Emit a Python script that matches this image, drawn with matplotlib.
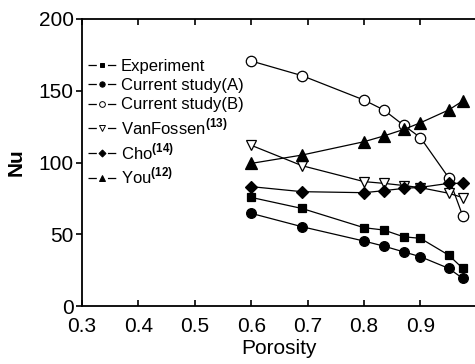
import matplotlib
matplotlib.use("Agg")
import matplotlib.pyplot as plt
from matplotlib.lines import Line2D

plt.rcParams['font.family'] = ['Liberation Sans', 'DejaVu Sans']
plt.rcParams['mathtext.fontset'] = 'custom'
plt.rcParams['mathtext.rm'] = 'Liberation Sans'
plt.rcParams['mathtext.bf'] = 'Liberation Sans:bold'
plt.rcParams['lines.scale_dashes'] = False

porosity = [0.60, 0.69, 0.80, 0.835, 0.87, 0.90, 0.95, 0.975]

experiment = [75.7, 68.0, 54.6, 53.0, 48.3, 47.2, 35.5, 26.3]
current_a = [64.6, 55.3, 45.3, 41.8, 37.8, 34.4, 26.3, 19.3]
current_b = [170.7, 160.5, 143.5, 136.6, 126.0, 117.3, 89.4, 62.7]
vanfossen = [112.0, 97.8, 86.7, 85.5, 84.0, 82.5, 78.6, 75.6]
cho = [83.2, 79.7, 79.0, 80.4, 82.0, 82.7, 85.5, 85.5]
you = [99.4, 105.2, 114.5, 118.5, 123.0, 127.7, 136.6, 142.9]

labels = ["Experiment", "Current study(A)", "Current study(B)",
          r"VanFossen$^{\mathbf{(13)}}$", r"Cho$^{\mathbf{(14)}}$", r"You$^{\mathbf{(12)}}$"]

series = [
    (experiment, dict(marker='s', mfc='black', ms=6)),
    (current_a, dict(marker='o', mfc='black', ms=7)),
    (current_b, dict(marker='o', mfc='white', ms=7.5)),
    (vanfossen, dict(marker='v', mfc='white', ms=7.5)),
    (cho, dict(marker='D', mfc='black', ms=6.5)),
    (you, dict(marker='^', mfc='black', ms=8)),
]

fig = plt.figure(figsize=(4.75, 3.64), dpi=100)
ax = fig.add_axes([0.1726, 0.159, 0.8314, 0.789])

handles = []
for (vals, style), lab in zip(series, labels):
    ax.plot(porosity, vals, color='black', lw=0.9, mec='black', mew=0.9, **style)
    leg_style = dict(style)
    leg_style['ms'] = style['ms'] * 0.55
    handles.append(Line2D([], [], color='black', lw=0.9, mec='black', mew=0.7,
                          linestyle=(0, (6.0, 8.0)), **leg_style))

ax.set_xlim(0.3, 1.0)
ax.set_ylim(0, 200)
ax.set_xticks([0.3, 0.4, 0.5, 0.6, 0.7, 0.8, 0.9])
ax.set_yticks([0, 50, 100, 150, 200])

for s in ax.spines.values():
    s.set_linewidth(1.3)

ax.tick_params(axis='x', direction='in', length=4, width=1.2, top=True,
               labelsize=15, pad=8)
ax.tick_params(axis='y', direction='out', length=4, width=1.2, labelsize=15, pad=2)
ax.tick_params(axis='y', which='major', right=True)
for t in ax.yaxis.get_ticklines()[1::2]:
    t.set_markersize(-4)

ax.set_xlabel("Porosity", fontsize=15, labelpad=2)
ax.set_ylabel("Nu", fontsize=15, fontweight='bold', labelpad=9)

ax.legend(handles, labels, loc='upper left', bbox_to_anchor=(-0.01, 0.895),
          frameon=False, fontsize=12, handlelength=1.67, handletextpad=0.3,
          labelspacing=0.25, borderaxespad=0.2)

fig.savefig("out.png", dpi=100)
